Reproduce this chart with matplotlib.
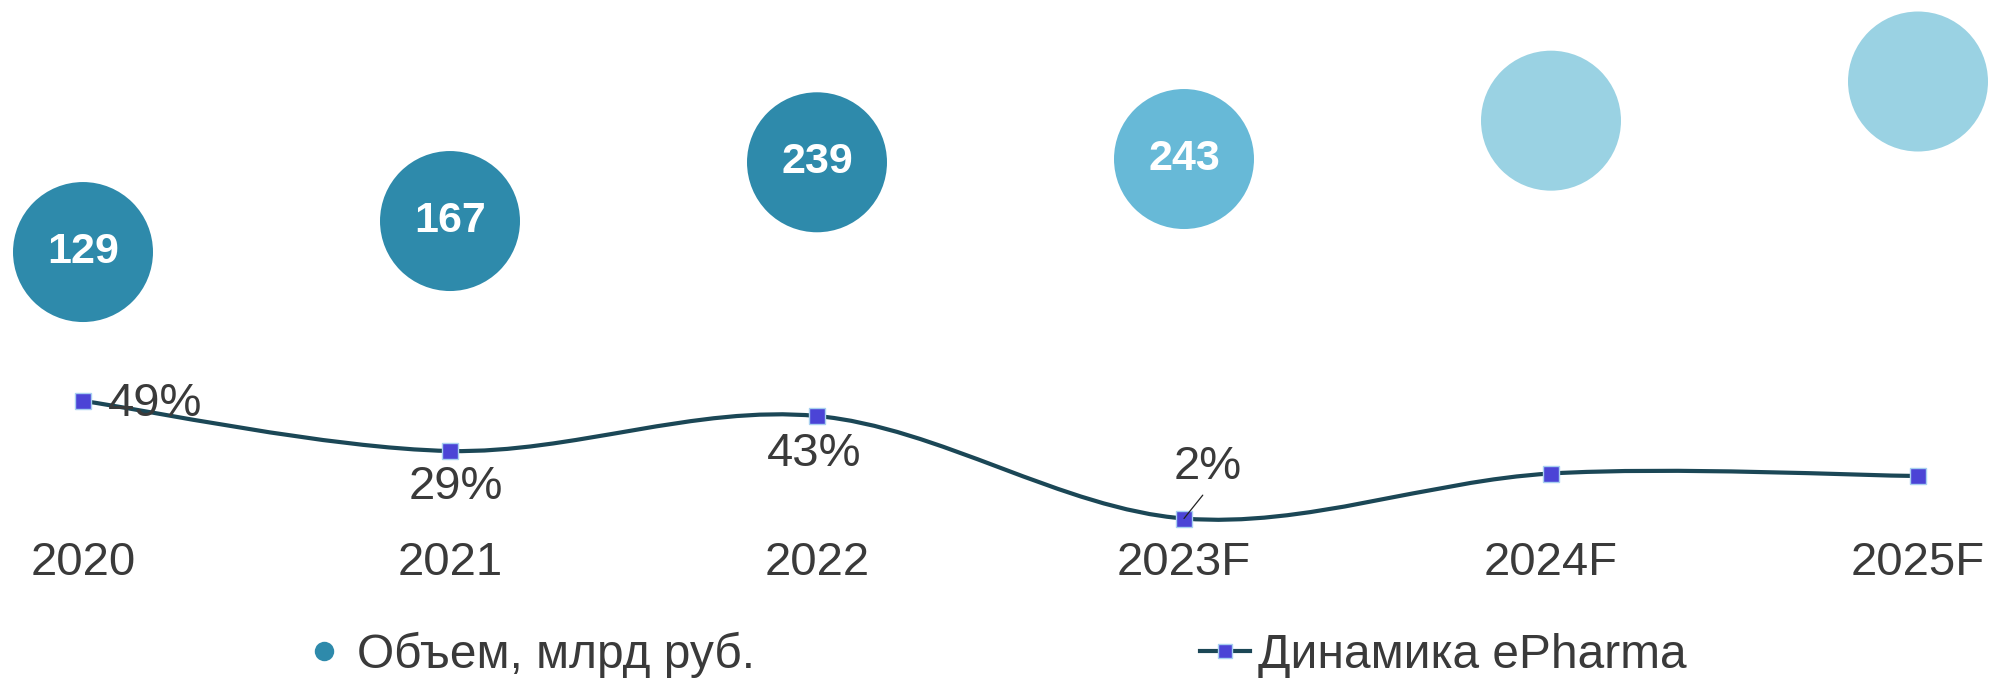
import numpy as np
import matplotlib.pyplot as plt
from matplotlib.path import Path
from matplotlib.patches import PathPatch
from matplotlib.lines import Line2D

plt.rcParams['font.family'] = ['Liberation Sans', 'DejaVu Sans']

# Data
years = ["2020", "2021", "2022", "2023F", "2024F", "2025F"]
volume = [129, 167, 239, 243, 290, 338]          # млрд руб.
volume_labels = ["129", "167", "239", "243", "", ""]
growth = [49, 29, 43, 2, 20, 19]                  # %
growth_labels = ["49%", "29%", "43%", "2%", "", ""]

bubble_colors = ["#2E8AAB", "#2E8AAB", "#2E8AAB", "#67B9D7", "#9AD2E3", "#9AD2E3"]
line_color = "#1B4756"
marker_color = "#4B44D6"
text_color = "#3A3A3A"

W, H = 1992, 678
fig = plt.figure(figsize=(W / 100, H / 100), dpi=100)
ax = fig.add_axes([0, (H - 535) / H, 1, 535 / H])
ax2 = ax.twinx()

x = np.arange(len(years))

# Bubbles
ax.scatter(x, volume, s=10160, c=bubble_colors, edgecolors="none", zorder=2)
for xi, v, lab in zip(x, volume, volume_labels):
    if lab:
        ax.text(xi, v, lab, ha="center", va="center", color="white",
                fontsize=31, fontweight="bold", zorder=3)

ax.set_xlim(-83 / 367, 5 + (W - 1918) / 367)
ax.set_ylim(-217.8, 437.9)

# Smoothed growth line (Excel-style bezier)
pts = np.column_stack([x, growth]).astype(float)
verts = [tuple(pts[0])]
codes = [Path.MOVETO]
n = len(pts)
for i in range(n - 1):
    p_prev = pts[max(i - 1, 0)]
    p0 = pts[i]
    p1 = pts[i + 1]
    p_next = pts[min(i + 2, n - 1)]
    c1 = p0 + (p1 - p_prev) / 6
    c2 = p1 - (p_next - p0) / 6
    verts += [tuple(c1), tuple(c2), tuple(p1)]
    codes += [Path.CURVE4] * 3
ax2.add_patch(PathPatch(Path(verts, codes), facecolor="none",
                        edgecolor=line_color, lw=3.0, zorder=2))
ax2.plot(x, growth, ls="none", marker="s", markersize=11,
         markerfacecolor=marker_color, markeredgecolor="#A8D0F0",
         markeredgewidth=1, zorder=3)

offsets = [(52, -2), (4, -26), (-2, -27), (17, 37), (0, 0), (0, 0)]
for xi, g, lab, off in zip(x, growth, growth_labels, offsets):
    if not lab:
        continue
    if lab == "2%":
        ax2.annotate(lab, (xi, g), xytext=off, textcoords="offset points",
                     ha="center", va="center", fontsize=34, color=text_color,
                     arrowprops=dict(arrowstyle="-", color="#222222", lw=0.9,
                                     relpos=(0.5, 0.0), shrinkA=3, shrinkB=0),
                     zorder=4)
    else:
        ax2.annotate(lab, (xi, g), xytext=off, textcoords="offset points",
                     ha="center", va="center", fontsize=34, color=text_color,
                     zorder=4)

ax2.set_ylim(-4.6, 209.4)

ax.set_xticks(x)
ax.set_xticklabels(years, fontsize=34, color=text_color)
ax.tick_params(axis="x", length=0, pad=4)
ax.set_yticks([])
ax2.set_yticks([])
for a in (ax, ax2):
    for s in a.spines.values():
        s.set_visible(False)
ax.patch.set_visible(False)

# Legend
h1 = Line2D([], [], ls="none", marker="o", markersize=14,
            markerfacecolor="#2E8AAB", markeredgecolor="none")
h2 = Line2D([], [], color=line_color, lw=3.0, marker="s", markersize=10,
            markerfacecolor=marker_color, markeredgecolor="#A8D0F0")
fig.legend([h1, h2], ["Объем, млрд руб.", "Динамика ePharma"],
           loc="center left", bbox_to_anchor=(299 / W, 23 / H), ncol=2,
           frameon=False, fontsize=34.5, borderpad=0, borderaxespad=0,
           handlelength=1.05, handletextpad=0.15, columnspacing=9.3,
           labelcolor=text_color)

fig.savefig("out.png", dpi=100)
